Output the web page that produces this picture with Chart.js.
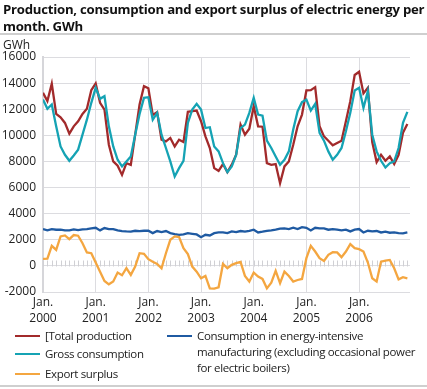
<!DOCTYPE html>
<html>
<head>
<meta charset="utf-8">
<script src="https://cdn.jsdelivr.net/npm/chart.js@4/dist/chart.umd.min.js"></script>
<style>
  body{margin:0;background:#fff;font-family:"Open Sans",sans-serif;color:#222}
  #wrap{position:relative;width:427px;height:389px;overflow:hidden}
  #c{position:absolute;left:0;top:0}
  #title{position:absolute;left:3px;top:1px;width:424px;font-weight:bold;font-size:13.2px;letter-spacing:-0.25px;line-height:17px;color:#111}
  #rule1{position:absolute;left:0;top:33px;width:427px;height:2px;background:#cfcfcf}
  #unit{position:absolute;left:3px;top:36px;font-size:12px}
  #rule2{position:absolute;left:0;top:385px;width:427px;height:2px;background:#cfcfcf}
  .lg{position:absolute;font-size:11.5px;letter-spacing:-0.35px;line-height:16px;display:flex;align-items:flex-start}
  .lg i{display:inline-block;width:25px;height:2px;margin-top:7px;margin-right:5px;flex:none}
</style>
</head>
<body>
<div id="wrap">
  <canvas id="c" width="427" height="389"></canvas>
  <div id="title">Production, consumption and export surplus of electric energy per month. GWh</div>
  <div id="rule1"></div>
  <div id="unit">GWh</div>
  <div id="legend"></div>
  <div id="rule2"></div>
</div>
<script>
// monthly values Jan 2000 - Dec 2006, GWh
const years = [2000, 2001, 2002, 2003, 2004, 2005, 2006]

const totalProduction = [
  13260, 12620, 13950, 11640, 11380, 10950, 10130, 10690, 11080, 11640, 12030, 13460,
  13970, 12490, 11970, 9280, 8000, 7670, 6970, 7870, 7740, 10050, 12360, 13770,
  13600, 11560, 11770, 9670, 9540, 9800, 9150, 9670, 9490, 11800, 11850, 11900,
  11080, 9920, 9030, 7490, 7280, 7800, 7180, 7750, 8510, 10820, 10050, 10510,
  12230, 10690, 10660, 7870, 7740, 7800, 6330, 7620, 8000, 9280, 10690, 11590,
  13440, 13460, 13690, 10690, 9920, 9590, 9230, 9410, 9590, 11080, 12620, 14620,
  14870, 13210, 13640, 9490, 7950, 8510, 8050, 8380, 7800, 8510, 10200, 10870
]
const grossConsumption = [
  12740, 12030, 12360, 10690, 9150, 8510, 8050, 8460, 8900, 10050, 11200, 12490,
  13640, 12800, 13000, 10690, 9150, 8130, 7620, 8000, 8380, 10050, 11640, 12870,
  12920, 11200, 11720, 10050, 9030, 8000, 6850, 7490, 8050, 10950, 11970, 12410,
  11970, 10560, 10620, 9150, 8770, 7870, 7180, 7620, 8510, 10560, 10820, 11720,
  12870, 11590, 11500, 9590, 9030, 8380, 7740, 8130, 8770, 10440, 11850, 12540,
  12740, 11900, 12410, 10180, 9590, 8770, 8130, 8510, 9030, 10310, 11720, 13440,
  13640, 12100, 13380, 10050, 8770, 8050, 7540, 7870, 8000, 9030, 10950, 11800
]
const energyIntensive = [
  2820, 2720, 2820, 2770, 2770, 2720, 2720, 2800, 2740, 2800, 2820, 2870,
  2920, 2720, 2900, 2820, 2820, 2720, 2670, 2640, 2620, 2690, 2670, 2690,
  2690, 2510, 2670, 2590, 2670, 2510, 2440, 2380, 2410, 2510, 2460, 2410,
  2200, 2380, 2330, 2510, 2560, 2560, 2510, 2640, 2590, 2670, 2620, 2690,
  2770, 2560, 2620, 2690, 2720, 2770, 2850, 2870, 2820, 2920, 2820, 2970,
  2920, 2720, 2920, 2870, 2870, 2770, 2820, 2770, 2720, 2770, 2640, 2770,
  2820, 2560, 2690, 2640, 2670, 2560, 2620, 2540, 2560, 2510, 2490, 2560
]
const exportSurplus = [
  540, 560, 1540, 1230, 2260, 2330, 2050, 2360, 2310, 1740, 1030, 970,
  260, -440, -1150, -1410, -1200, -510, -720, -180, -690, -50, 970, 920,
  510, 310, 150, -180, 970, 2000, 2260, 2210, 1360, 900, -50, -440,
  -950, -770, -1720, -1740, -1640, 150, -180, 80, 210, 310, -770, -1200,
  -510, -820, -1000, -1720, -1280, -380, -1330, -440, -770, -1200, -1080, -1000,
  590, 1540, 1100, 590, 380, 850, 1050, 1030, 670, 1100, 1670, 1360,
  1280, 1100, 260, -950, -1200, 330, 410, 460, -180, -1030, -870, -950
]

const yTicks = [-2000, 0, 2000, 4000, 6000, 8000, 10000, 12000, 14000, 16000]

const pts = arr => arr.map((v, i) => ({x: i, y: v}))

// short monthly marks sitting on the zero line
const zeroTicks = {
  id: 'zeroTicks',
  beforeDatasetsDraw(chart){
    const {ctx, scales:{x, y}} = chart
    const y0 = Math.round(y.getPixelForValue(0)) + 0.5
    ctx.save()
    ctx.strokeStyle = '#d0d0d4'
    ctx.lineWidth = 1
    ctx.beginPath()
    for(let i=0;i<years.length*12;i++){
      const px = Math.round(x.getPixelForValue(i)) + 0.5
      ctx.moveTo(px, y0); ctx.lineTo(px, y0-6)
    }
    ctx.stroke()
    ctx.restore()
  }
}

const ds = (label, data, color) => ({
  label, data: pts(data), borderColor: color, backgroundColor: color,
  borderWidth: 2.3, pointRadius: 0, tension: 0, fill: false
})

const chart = new Chart(document.getElementById('c'), {
  type: 'line',
  data: {
    datasets: [
      ds('Export surplus', exportSurplus, '#f4a640'),
      ds('Consumption in energy-intensive manufacturing (excluding occasional power for electric boilers)', energyIntensive, '#1f5aa2'),
      ds('Gross consumption', grossConsumption, '#15a3b4'),
      ds('[Total production', totalProduction, '#a22a2b')
    ]
  },
  options: {
    responsive: false,
    animation: false,
    layout: {padding: {top: 57, right: 17, left: 0, bottom: 0}},
    plugins: {legend: {display: false}, tooltip: {enabled: false}},
    scales: {
      x: {
        type: 'linear', min: 0, max: 83.6,
        afterBuildTicks: s => { s.ticks = years.map((yr, i) => ({value: i*12})) },
        afterFit: s => { s.height = 97 },
        grid: {color: '#dcdce0', lineWidth: 1, drawTicks: false},
        border: {display: false},
        ticks: {
          padding: 3, color: '#222', maxRotation: 0, autoSkip: false,
          font: {family: 'Open Sans', size: 12, lineHeight: 1.3},
          callback: v => ['Jan.', String(years[v/12])]
        }
      },
      y: {
        min: -2000, max: 16000,
        afterBuildTicks: s => { s.ticks = yTicks.map(v => ({value: v})) },
        afterFit: s => { s.width = 43 },
        grid: {color: '#dcdce0', lineWidth: 1, drawTicks: false},
        border: {display: true, color: '#d6d6da', width: 2},
        ticks: {
          padding: 7, color: '#222',
          font: {family: 'Open Sans', size: 12},
          callback: v => String(v)
        }
      }
    }
  },
  plugins: [zeroTicks]
})

// legend in two columns, like the original
const order = [
  {i: 3, left: 15, top: 328},
  {i: 2, left: 15, top: 346},
  {i: 0, left: 15, top: 366},
  {i: 1, left: 167, top: 328, width: 260}
]
document.getElementById('legend').innerHTML = order.map(o => {
  const d = chart.data.datasets[o.i]
  const w = o.width ? `width:${o.width}px;` : ''
  return `<div class="lg" style="left:${o.left}px;top:${o.top}px;${w}"><i style="background:${d.borderColor}"></i><span>${d.label}</span></div>`
}).join('')
</script>
</body>
</html>
